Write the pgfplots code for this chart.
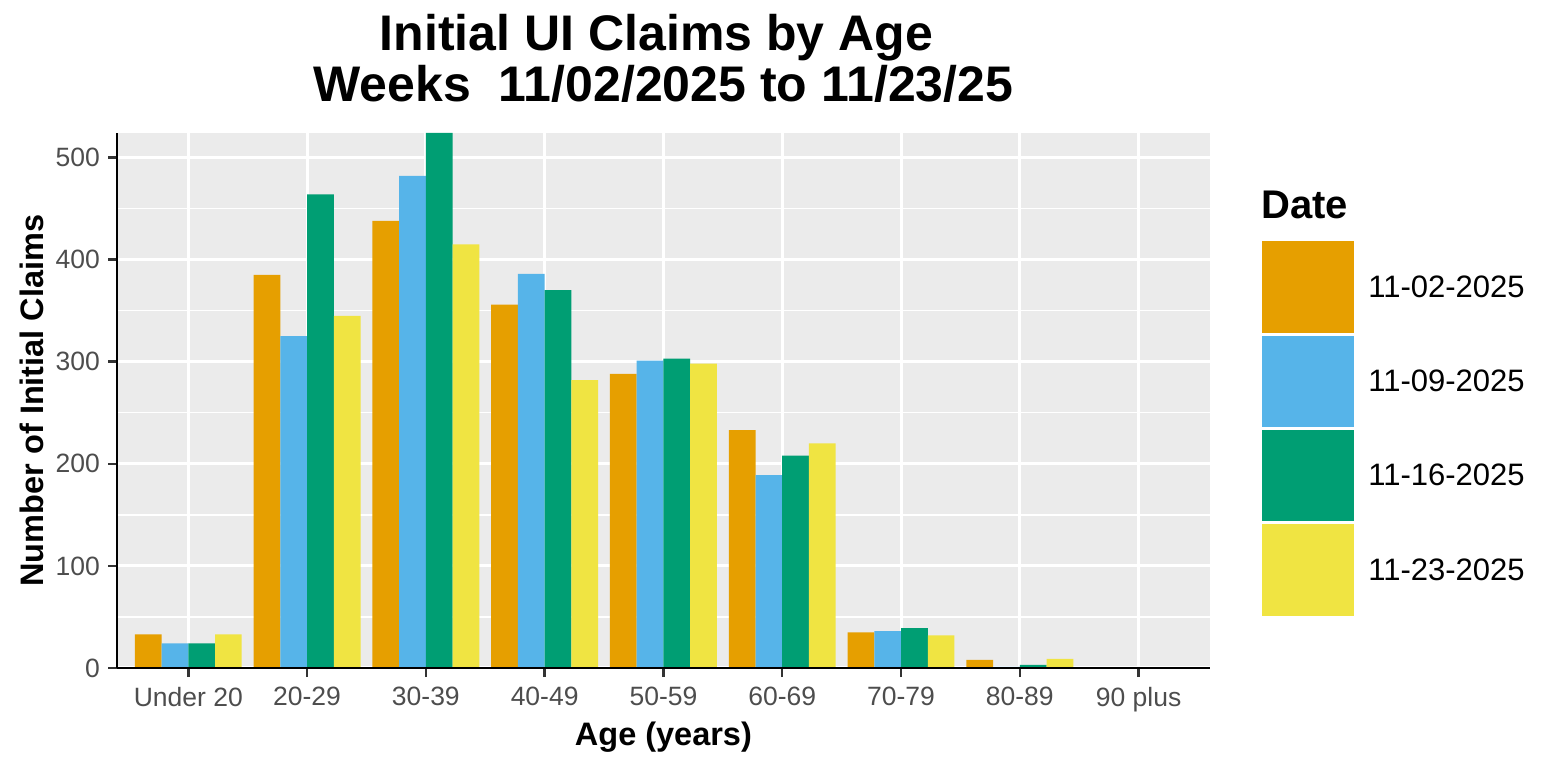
\documentclass[border=0pt]{standalone}
\usepackage{pgfplots}
\pgfplotsset{compat=1.18}
\usepackage{fontspec}
\setmainfont{Liberation Sans}
\definecolor{cA}{HTML}{E69F00}
\definecolor{cB}{HTML}{56B4E9}
\definecolor{cC}{HTML}{009E73}
\definecolor{cD}{HTML}{F0E442}
\definecolor{panel}{HTML}{EBEBEB}
\definecolor{ticklab}{HTML}{4D4D4D}
\definecolor{tickc}{HTML}{333333}
\pgfplotsset{layers/mylayers/.define layer set={axis background,axis grid,main,axis ticks,axis lines,axis tick labels,axis descriptions,axis foreground}{/pgfplots/layers/standard}}
\newcommand{\keyimg}[1]{\addlegendimage{legend image code/.code={\fill[#1] (0pt,-46.4pt) rectangle (93pt,46.4pt); \draw[white, line width=1.5pt] (0pt,-46.4pt) rectangle (93pt,46.4pt);}}}
\begin{document}
\begin{tikzpicture}[x=1pt,y=1pt]
\begin{axis}[
  set layers=mylayers,
  scale only axis, width=1093pt, height=535pt,
  at={(117pt,98pt)}, anchor=south west,
  xmin=-0.6, xmax=8.6, ymin=0, ymax=524,
  ybar, bar width=0.225,
  xtick={0,1,2,3,4,5,6,7,8},
  xticklabels={Under 20,20-29,30-39,40-49,50-59,60-69,70-79,80-89,90 plus},
  ytick={0,100,200,300,400,500},
  minor ytick={50,150,250,350,450},
  grid=both,
  major grid style={white, line width=3pt},
  minor grid style={white, line width=1.4pt},
  axis background/.style={fill=panel},
  axis x line*=bottom, axis y line*=left,
  axis line style={black, line width=1.2pt},
  x axis line style={-}, y axis line style={-},
  tick align=outside, major tick length=9pt, minor tick length=0pt,
  every tick/.style={tickc, line width=2.5pt},
  /pgf/number format/assume math mode=true,
  yticklabel style={font=\fontsize{26.5}{27}\selectfont, text=ticklab, inner sep=0pt, anchor=east, xshift=-8pt},
  xticklabel style={font=\fontsize{26.5}{27}\selectfont, text=ticklab, inner sep=0pt, anchor=north, yshift=-10pt},
  title={Initial UI Claims by Age\hspace*{14pt}\\Weeks\ \ 11/02/2025 to 11/23/25},
  title style={at={(axis description cs:0.5,1)}, anchor=north, yshift=113pt, font=\bfseries\fontsize{50}{51}\selectfont, align=center, inner sep=0pt},
  xlabel={Age (years)},
  xlabel style={at={(axis description cs:0.5,0)}, anchor=base, yshift=-77pt, font=\bfseries\fontsize{32.5}{33}\selectfont, inner sep=0pt},
  ylabel={Number of Initial Claims},
  ylabel style={at={(axis description cs:-0.0668,0.5)}, anchor=base, font=\bfseries\fontsize{32.5}{33}\selectfont, inner sep=0pt},
  legend style={at={(axis description cs:1.0467,0.8)}, anchor=north west, draw=none, inner sep=0pt, outer sep=0pt, row sep=0pt, font=\fontsize{31}{31}\selectfont, cells={anchor=west}, nodes={inner sep=0pt}, /tikz/every odd column/.append style={column sep=13pt}},
]
\keyimg{cA}
\keyimg{cB}
\keyimg{cC}
\keyimg{cD}
\addplot[fill=cA, draw=none, bar shift=-0.3375, forget plot] coordinates {(0,33) (1,385) (2,438) (3,356) (4,288) (5,233) (6,35) (7,8) (8,0)};
\addplot[fill=cB, draw=none, bar shift=-0.1125, forget plot] coordinates {(0,24) (1,325) (2,482) (3,386) (4,301) (5,189) (6,36) (7,1) (8,0)};
\addplot[fill=cC, draw=none, bar shift=0.1125, forget plot] coordinates {(0,24) (1,464) (2,524) (3,370) (4,303) (5,208) (6,39) (7,3) (8,0)};
\addplot[fill=cD, draw=none, bar shift=0.3375, forget plot] coordinates {(0,33) (1,345) (2,415) (3,282) (4,298) (5,220) (6,32) (7,9) (8,0)};
\legend{11-02-2025,11-09-2025,11-16-2025,11-23-2025}
\end{axis}
\node[anchor=base west, inner sep=0pt, font=\bfseries\fontsize{40}{40}\selectfont] at (1261pt,547pt) {Date};
\pgfresetboundingbox
\useasboundingbox (0pt,0pt) rectangle (1561pt,766pt);
\end{tikzpicture}
\end{document}
